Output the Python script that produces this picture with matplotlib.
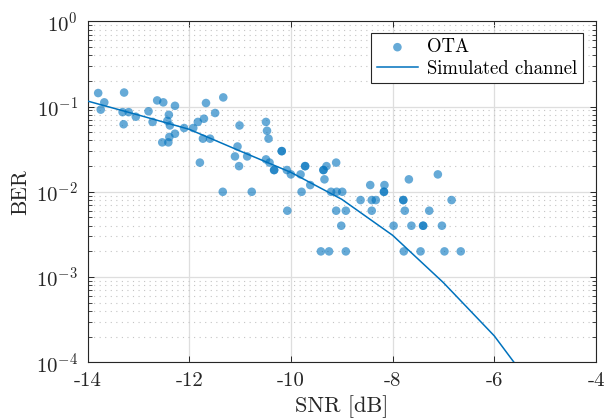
import matplotlib
matplotlib.use("Agg")
import matplotlib.pyplot as plt
from matplotlib.ticker import LogLocator, NullFormatter, FixedLocator

plt.rcParams['font.family'] = 'serif'
plt.rcParams['font.serif'] = ['cmr10']
plt.rcParams['mathtext.fontset'] = 'cm'
plt.rcParams['axes.unicode_minus'] = False
plt.rcParams['axes.formatter.use_mathtext'] = True

# OTA measurements (SNR in dB, BER)
ota_snr = [-13.79, -13.67, -13.74, -13.28, -13.31, -13.19, -13.29, -13.05, -12.80, -12.72,
           -12.63, -12.51, -12.28, -12.40, -12.43, -12.38, -12.53, -12.41, -12.39, -12.28,
           -12.10, -11.92, -11.83, -11.71, -11.67, -11.49, -11.33, -11.73, -11.59, -11.79,
           -11.34, -11.01, -11.05, -11.10, -10.86, -11.02, -10.77, -10.49, -10.47, -10.44,
           -10.18, -10.18, -10.49, -10.42, -10.33, -10.33, -10.08, -10.00, -9.81, -9.72,
           -9.72, -9.30, -9.36, -9.36, -9.11, -9.34, -9.62, -9.79, -10.07, -9.21,
           -9.10, -8.99, -9.11, -8.92, -9.01, -9.41, -9.25, -8.92, -8.63, -8.44,
           -8.41, -8.33, -8.41, -8.16, -8.17, -8.17, -7.98, -7.79, -7.79, -7.76,
           -7.68, -7.63, -7.40, -7.40, -7.28, -7.11, -7.03, -6.84, -7.78, -7.45,
           -6.98, -6.66]
ota_ber = [0.144, 0.112, 0.092, 0.146, 0.086, 0.086, 0.062, 0.076, 0.088, 0.066,
           0.118, 0.112, 0.102, 0.080, 0.068, 0.060, 0.038, 0.038, 0.044, 0.048,
           0.056, 0.056, 0.066, 0.072, 0.110, 0.084, 0.128, 0.042, 0.042, 0.022,
           0.010, 0.060, 0.034, 0.026, 0.026, 0.020, 0.010, 0.066, 0.052, 0.042,
           0.030, 0.030, 0.024, 0.022, 0.018, 0.018, 0.018, 0.016, 0.016, 0.020,
           0.020, 0.020, 0.018, 0.018, 0.022, 0.014, 0.012, 0.010, 0.006, 0.010,
           0.010, 0.010, 0.006, 0.006, 0.004, 0.002, 0.002, 0.002, 0.008, 0.012,
           0.008, 0.008, 0.006, 0.012, 0.010, 0.010, 0.004, 0.008, 0.008, 0.006,
           0.014, 0.004, 0.004, 0.004, 0.006, 0.016, 0.004, 0.008, 0.002, 0.002,
           0.002, 0.002]

# Simulated channel curve
sim_snr = [-14, -13, -12, -11, -10, -9, -8, -7, -6, -5]
sim_ber = [0.116, 0.0796, 0.0541, 0.0301, 0.0169, 0.00817, 0.00309, 0.000859, 0.000204, 3.24e-5]

x_ticks = [-14, -12, -10, -8, -6, -4]
x_tick_labels = ['-14', '-12', '-10', '-8', '-6', '-4']

blue = '#0072BD'
dark = '#262626'

fig = plt.figure(figsize=(6.09, 4.19), dpi=100)
ax = fig.add_axes([87.5 / 609, 1 - 362.3 / 419, 508.5 / 609, 341 / 419])

ax.scatter(ota_snr, ota_ber, s=38, color=blue, alpha=0.6, edgecolors='none',
           label='OTA', zorder=3)
ax.plot(sim_snr, sim_ber, color=blue, lw=1.1, label='Simulated channel', zorder=4)

ax.set_yscale('log')
ax.set_xlim(-14, -4)
ax.set_ylim(1e-4, 1)
ax.xaxis.set_major_locator(FixedLocator(x_ticks))
ax.set_xticklabels(x_tick_labels)
ax.yaxis.set_major_locator(LogLocator(base=10, numticks=10))
ax.yaxis.set_minor_locator(LogLocator(base=10, subs=range(2, 10), numticks=50))
ax.yaxis.set_minor_formatter(NullFormatter())

ax.grid(True, which='major', color='#dedede', lw=0.9, ls='-', zorder=0)
ax.grid(True, which='minor', axis='y', color='#c4c4c4', lw=0.8, ls=(0, (1, 4)), zorder=0)
ax.set_axisbelow(True)

ax.tick_params(which='both', direction='in', top=True, right=True, colors=dark,
               labelsize=15, pad=7)
ax.tick_params(which='major', length=4.5, width=0.7)
ax.tick_params(which='minor', length=3, width=0.6)
for sp in ax.spines.values():
    sp.set_color(dark)
    sp.set_linewidth(0.8)

ax.set_xlabel('SNR [dB]', fontsize=16, color=dark, labelpad=4)
ax.set_ylabel('BER', fontsize=15.5, color=dark, labelpad=4)

leg = ax.legend(loc='upper right', bbox_to_anchor=(0.975, 0.967), borderaxespad=0,
                fontsize=13.5, fancybox=False, framealpha=1, edgecolor=dark,
                handlelength=2.2, handletextpad=0.5, borderpad=0.3, labelspacing=0.2)
leg.get_frame().set_linewidth(0.8)

fig.savefig('out.png', dpi=100)
